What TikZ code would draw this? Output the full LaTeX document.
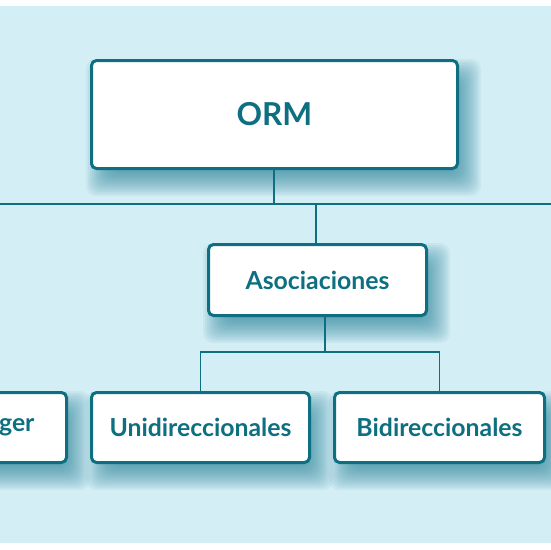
\documentclass[tikz,border=0pt]{standalone}
\usepackage{fontspec}
\setmainfont{Lato}
\usetikzlibrary{backgrounds}
\definecolor{bgblue}{HTML}{D4EEF5}
\definecolor{teal1}{HTML}{0D6F80}
\definecolor{shadowc}{HTML}{1A7C93}
\tikzset{
  boxnode/.style={draw=teal1, line width=3pt, fill=white, rounded corners=5pt,
    text=teal1, font=\bfseries\fontsize{24.8}{28}\selectfont, inner sep=0pt, anchor=north west},
  conn/.style={draw=teal1, line width=1.5pt},
}
\newcommand{\mkshadow}[1]{%
  \foreach \k in {0,...,13}{%
    \pgfmathsetmacro{\o}{13-2*\k}%
    \fill[shadowc, opacity=0.065, rounded corners=10pt]
      ([shift={(9-\o,13-\o)}]#1.north west) rectangle ([shift={(9+\o,13+\o)}]#1.south east);
  }%
}
\begin{document}
\begin{tikzpicture}[x=1pt,y=-1pt]
\useasboundingbox (0,0) rectangle (550,550);
\clip (0,0) rectangle (550,550);
% nodes
\node[boxnode, minimum width=366pt, minimum height=108pt, font=\bfseries\fontsize{31.6}{34}\selectfont] (orm) at (90,59) {ORM};
\node[boxnode, minimum width=218pt, minimum height=71pt] (asoc) at (207,243) {Asociaciones};
\node[boxnode, minimum width=145pt, minimum height=70pt, text width=81pt, align=right] (eager) at (-80,391) {ger};
\node[boxnode, minimum width=218pt, minimum height=70pt] (uni) at (90,391) {Unidireccionales};
\node[boxnode, minimum width=210pt, minimum height=70pt] (bi) at (333,391) {Bidireccionales};
\begin{scope}[on background layer]
  \fill[white] (0,0) rectangle (550,550);
  \fill[bgblue] (-5,6) rectangle (555,543);
  \mkshadow{orm}
  \mkshadow{asoc}
  \mkshadow{eager}
  \mkshadow{uni}
  \mkshadow{bi}
  \coordinate (busA) at (274,204);
  \coordinate (busL) at (-5,204);
  \coordinate (busR) at (555,204);
  \coordinate (busB) at (325,352);
  \coordinate (asocTop) at (316,204);
  \draw[conn] (orm.south -| busA) -- (busA);
  \draw[conn] (busL) -- (busR);
  \draw[conn] (asoc.north -| asocTop) -- (asocTop);
  \draw[conn] (asoc.south -| busB) -- (busB);
  \draw[conn] (uni.north) |- (busB) -| (bi.north);
\end{scope}
\end{tikzpicture}
\end{document}
